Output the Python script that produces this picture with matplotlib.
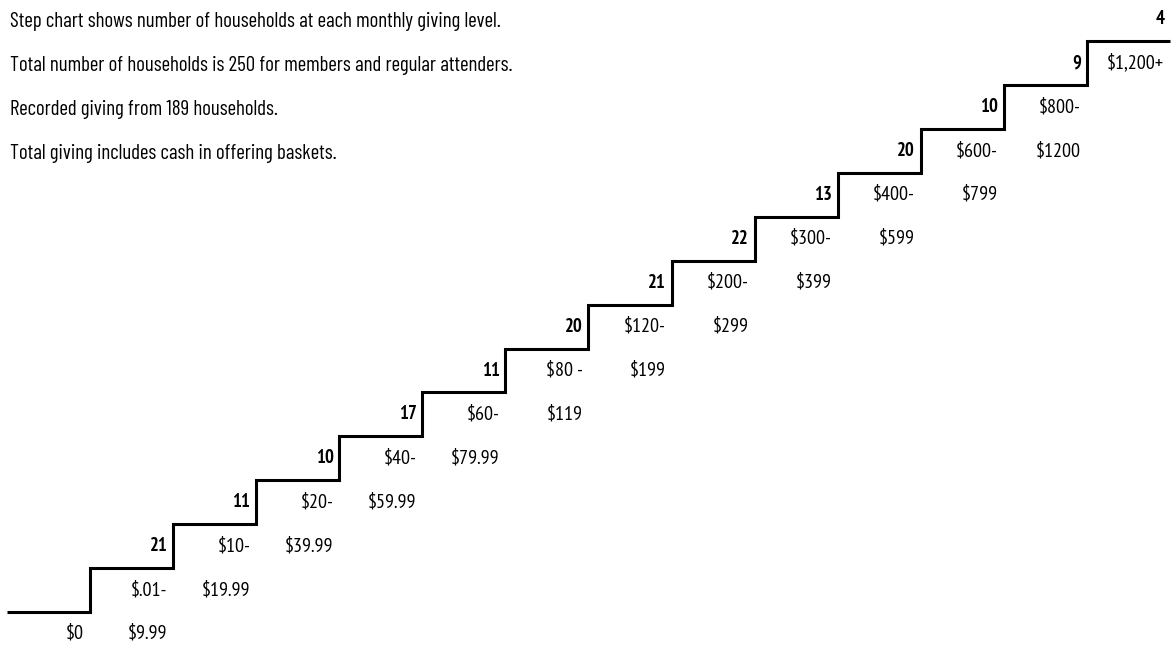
import numpy as np
import matplotlib
matplotlib.use("Agg")
import matplotlib.pyplot as plt
from matplotlib import font_manager

# giving levels (two-line labels) and household counts
line1 = ["$0", "$.01-", "$10-", "$20-", "$40-", "$60-", "$80 -", "$120-",
         "$200-", "$300-", "$400-", "$600-", "$800-", "$1,200+"]
line2 = ["", "$9.99", "$19.99", "$39.99", "$59.99", "$79.99", "$119", "$199",
         "$299", "$399", "$599", "$799", "$1200", ""]
counts = [None, 21, 11, 10, 17, 11, 20, 21, 22, 13, 20, 10, 9, 4]

notes = [
    "Step chart shows number of households at each monthly giving level.",
    "Total number of households is 250 for members and regular attenders.",
    "Recorded giving from 189 households.",
    "Total giving includes cash in offering baskets.",
]

fonts = font_manager.fontManager.ttflist


def pick(cands, bold=False):
    if bold:
        names = {f.name for f in fonts if f.weight in (700, "bold")}
    else:
        names = {f.name for f in fonts}
    return [c for c in cands if c in names] + ["DejaVu Sans"]


note_font = pick(["Barlow Condensed", "Barlow Semi Condensed", "Roboto Condensed",
                  "Liberation Sans Narrow"])
label_font = pick(["PT Sans Narrow", "Liberation Sans Narrow", "Roboto Condensed"])
count_font = pick(["PT Sans Narrow", "Liberation Sans Narrow", "Roboto Condensed"], bold=True)

n = len(line1)
levels = np.arange(n)
edges = np.arange(n + 1)

fig = plt.figure(figsize=(11.71, 6.52), dpi=100)
ax = fig.add_axes([0, 0, 1, 1])
renderer = fig.canvas.get_renderer()


def fit(t, width_px):
    # scale a text so it spans the width seen in the reference
    w = t.get_window_extent(renderer).width
    t.set_fontsize(t.get_fontsize() * width_px / w)
    return t.get_fontsize()


# staircase outline
ax.stairs(levels, edges, baseline=None, color="black", linewidth=2.2)

probe = ax.text(0, 0, "$19.99", fontsize=14, family=label_font)
lsize = fit(probe, 49)
probe.remove()
probe = ax.text(0, 0, "21", fontsize=14, family=count_font, fontweight="bold")
csize = fit(probe, 18)
probe.remove()
probe = ax.text(0, 0, notes[0], fontsize=16, family=note_font)
nsize = fit(probe, 493)
probe.remove()

for i in range(n):
    if counts[i] is not None:
        ax.text(i + 0.93, levels[i] + 0.5, str(counts[i]), ha="right", va="center",
                fontsize=csize, fontweight="bold", family=count_font)
    ax.text(i + 0.93, levels[i] - 0.5, line1[i], ha="right", va="center",
            fontsize=lsize, family=label_font)
    if line2[i]:
        ax.text(i + 0.93, levels[i] - 1.5, line2[i], ha="right", va="center",
                fontsize=lsize, family=label_font)

for k, note in enumerate(notes):
    ax.text(0.036, levels[-1] + 0.45 - k, note, ha="left", va="center",
            fontsize=nsize, family=note_font)

ax.set_xlim(-0.084, 14.012)
ax.set_ylim(-0.911, 13.94)
ax.axis("off")

fig.savefig("out.png", dpi=100)
